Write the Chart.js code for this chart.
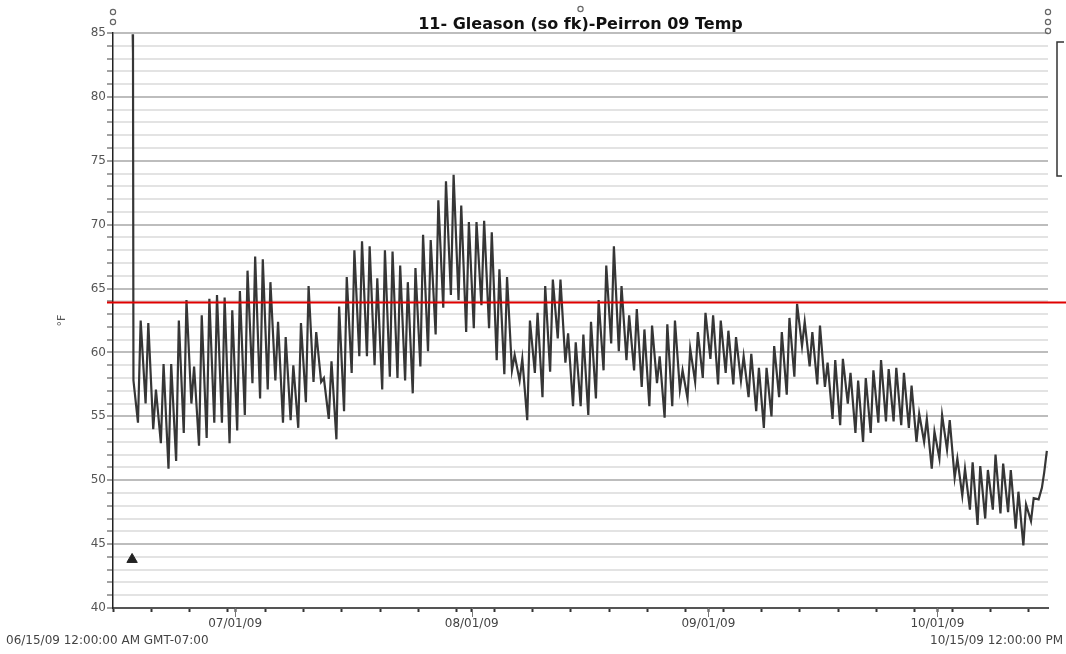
<!DOCTYPE html>
<html>
<head>
<meta charset="utf-8">
<title>11- Gleason (so fk)-Peirron 09 Temp</title>
<script src="https://cdn.jsdelivr.net/npm/chart.js@4.4.1/dist/chart.umd.min.js"></script>
<style>
  html, body { margin: 0; padding: 0; background: #fff; }
  #wrap { width: 1066px; height: 654px; position: relative; }
</style>
</head>
<body>
<div id="wrap"><canvas id="tempChart"></canvas></div>
<script>
// Days are counted from 06/15/09 00:00 (GMT-07:00)
const chartTitle = '11- Gleason (so fk)-Peirron 09 Temp';
const axisStart = 0;
const axisEnd = 122.5;            // 10/15/09 12:00
const startLabel = '06/15/09 12:00:00 AM GMT-07:00';
const endLabel = '10/15/09 12:00:00 PM';

// month ticks on the x axis
const monthDays = [16, 47, 78, 108];
const monthLabels = ['07/01/09', '08/01/09', '09/01/09', '10/01/09'];
const minorTickStep = 5;

// y axis, degrees F
const yMin = 40;
const yMax = 85;
const yLabelStep = 5;

// red reference line
const refTemp = 63.9;

// logger reading in air before it went into the stream
const launchDays = [2.58, 2.62, 2.68];
const launchTemps = [84.9, 83.4, 57.8];

// one morning low and one afternoon high per day, from day 3 on
const firstDay = 3;
const lowHour = 6.5;
const highHour = 15;
const dailyLow = [
  54.5, 56.0, 54.0, 52.9, 50.9, 51.5, 53.7, 56.0, 52.7, 53.3,
  54.5, 54.5, 52.9, 53.9, 55.1, 57.6, 56.4, 57.1, 57.8, 54.5,
  54.7, 54.1, 56.1, 57.7, 57.7, 54.8, 53.2, 55.4, 58.4, 59.7,
  59.7, 59.0, 57.1, 58.1, 58.0, 57.8, 56.8, 58.9, 60.1, 61.4,
  63.5, 64.5, 64.1, 61.6, 61.9, 63.7, 61.9, 59.4, 58.3, 58.6,
  57.8, 54.7, 58.4, 56.5, 58.5, 61.1, 59.2, 55.8, 55.8, 55.1,
  56.4, 58.6, 60.7, 60.1, 59.4, 58.6, 57.3, 55.8, 57.6, 54.9,
  55.8, 57.1, 56.4, 57.7, 58.0, 59.5, 57.5, 58.4, 57.5, 57.8,
  56.5, 55.4, 54.1, 55.0, 56.5, 56.7, 58.1, 60.5, 58.9, 57.5,
  57.3, 54.8, 54.3, 56.0, 53.7, 53.0, 53.7, 54.5, 54.6, 54.6,
  54.3, 54.1, 53.0, 53.0, 50.9, 51.7, 52.4, 50.2, 48.8, 47.7,
  46.5, 47.0, 47.7, 47.4, 47.5, 46.2, 44.9, 46.8, 48.5
];
const dailyHigh = [
  62.5, 62.3, 57.1, 59.1, 59.1, 62.5, 64.1, 58.9, 62.9, 64.2,
  64.5, 64.3, 63.3, 64.8, 66.4, 67.5, 67.3, 65.5, 62.4, 61.2,
  59.0, 62.3, 65.2, 61.6, 58.0, 59.3, 63.6, 65.9, 68.0, 68.7,
  68.3, 65.8, 68.0, 67.9, 66.8, 65.5, 66.6, 69.2, 68.8, 71.9,
  73.4, 73.9, 71.5, 70.2, 70.2, 70.3, 69.4, 66.5, 65.9, 59.8,
  59.5, 62.5, 63.1, 65.2, 65.7, 65.7, 61.5, 60.8, 61.4, 62.4,
  64.1, 66.8, 68.3, 65.2, 62.9, 63.4, 61.8, 62.1, 59.7, 62.2,
  62.5, 58.6, 60.3, 61.6, 63.1, 62.9, 62.5, 61.7, 61.2, 59.7,
  59.9, 58.8, 58.8, 60.5, 61.6, 62.7, 63.8, 62.4, 61.6, 62.1,
  59.2, 59.4, 59.5, 58.4, 57.8, 58.0, 58.6, 59.4, 58.7, 58.8,
  58.4, 57.4, 55.2, 54.8, 53.8, 55.1, 54.7, 51.7, 50.9, 51.4,
  51.1, 50.8, 52.0, 51.3, 50.8, 49.1, 48.1, 48.6
];

// last readings, warming up on the final day
const tailDays = [121.7, 122.0, 122.35];
const tailTemps = [49.4, 50.6, 52.3];

// the triangle marker at the lower left
const markerDay = 2.5;
const markerTemp = 43.8;

// build the trace
const tracePoints = [];
launchDays.forEach((d, i) => tracePoints.push({ x: d, y: launchTemps[i] }));
dailyLow.forEach((low, i) => {
  const day = firstDay + i;
  tracePoints.push({ x: day + lowHour / 24, y: low });
  if (i < dailyHigh.length) {
    tracePoints.push({ x: day + highHour / 24, y: dailyHigh[i] });
  }
});
tailDays.forEach((d, i) => tracePoints.push({ x: d, y: tailTemps[i] }));

const xTicks = [];
for (let d = axisStart; d <= axisEnd; d += minorTickStep) xTicks.push(d);
monthDays.forEach(d => xTicks.push(d));
xTicks.sort((a, b) => a - b);

const yTicks = [];
for (let v = yMin; v <= yMax; v++) yTicks.push(v);

// extra drawing: title, reference line, long month ticks, scroll knobs
const decorations = {
  id: 'decorations',
  afterDatasetsDraw(chart) {
    const { ctx, chartArea: a, scales: { y } } = chart;
    const yRef = y.getPixelForValue(refTemp);
    ctx.save();
    ctx.strokeStyle = '#e00000';
    ctx.lineWidth = 2;
    ctx.beginPath();
    ctx.moveTo(a.left - 6, yRef);
    ctx.lineTo(chart.width, yRef);
    ctx.stroke();
    ctx.restore();
  },
  afterDraw(chart) {
    const { ctx, chartArea: a, scales: { x } } = chart;
    ctx.save();

    ctx.fillStyle = '#111';
    ctx.font = 'bold 16px "DejaVu Sans", Verdana, sans-serif';
    ctx.textAlign = 'center';
    ctx.textBaseline = 'alphabetic';
    ctx.fillText(chartTitle, (a.left + a.right) / 2, 29);

    // month ticks are longer than the 5-day ones
    ctx.strokeStyle = '#777';
    ctx.lineWidth = 1;
    monthDays.forEach(d => {
      const px = Math.round(x.getPixelForValue(d)) + 0.5;
      ctx.beginPath();
      ctx.moveTo(px, a.bottom);
      ctx.lineTo(px, a.bottom + 9);
      ctx.stroke();
    });

    ctx.fillStyle = '#444';
    ctx.font = '12px "DejaVu Sans", Verdana, sans-serif';
    ctx.textAlign = 'left';
    ctx.fillText(startLabel, 6, 644);
    ctx.fillText(endLabel, 930, 644);

    // scroll knobs at the top of the plot
    ctx.strokeStyle = '#666';
    ctx.lineWidth = 1.2;
    const knobs = [[a.left, 12], [a.left, 22], [a.right, 12], [a.right, 22], [a.right, 31], [(a.left + a.right) / 2, 9]];
    knobs.forEach(([kx, ky]) => {
      ctx.beginPath();
      ctx.arc(kx, ky, 2.6, 0, Math.PI * 2);
      ctx.stroke();
    });

    // bracket at the right edge
    ctx.strokeStyle = '#333';
    ctx.lineWidth = 1.5;
    ctx.beginPath();
    ctx.moveTo(1064, 42);
    ctx.lineTo(1057, 42);
    ctx.lineTo(1057, 176);
    ctx.lineTo(1062, 176);
    ctx.stroke();

    ctx.restore();
  }
};

Chart.defaults.font.family = '"DejaVu Sans", Verdana, sans-serif';

const ctx = document.getElementById('tempChart').getContext('2d');
const tempChart = new Chart(ctx, {
  type: 'line',
  data: {
    datasets: [
      {
        label: 'Temp',
        data: tracePoints,
        borderColor: '#363636',
        borderWidth: 2.2,
        pointRadius: 0,
        tension: 0,
        fill: false
      },
      {
        label: 'marker',
        data: [{ x: markerDay, y: markerTemp }],
        showLine: false,
        pointStyle: 'triangle',
        pointRadius: 6,
        backgroundColor: '#222',
        borderColor: '#222'
      }
    ]
  },
  options: {
    responsive: true,
    maintainAspectRatio: false,
    animation: false,
    devicePixelRatio: 1,
    layout: { padding: { left: 52, right: 18, top: 33, bottom: 0 } },
    plugins: {
      legend: { display: false },
      tooltip: { enabled: false },
      title: { display: false }
    },
    scales: {
      x: {
        type: 'linear',
        min: axisStart,
        max: axisEnd,
        afterBuildTicks: scale => { scale.ticks = xTicks.map(v => ({ value: v })); },
        afterFit: scale => { scale.height = 46; },
        ticks: {
          autoSkip: false,
          maxRotation: 0,
          minRotation: 0,
          padding: 5,
          color: '#444',
          font: { size: 12 },
          callback: value => {
            const i = monthDays.indexOf(value);
            return i >= 0 ? monthLabels[i] : '';
          }
        },
        grid: {
          drawOnChartArea: false,
          drawTicks: true,
          tickLength: 4,
          tickColor: '#333',
          tickWidth: 2
        },
        border: { display: true, color: '#555', width: 2 }
      },
      y: {
        min: yMin,
        max: yMax,
        afterBuildTicks: scale => { scale.ticks = yTicks.map(v => ({ value: v })); },
        afterFit: scale => { scale.width = 61; },
        ticks: {
          autoSkip: false,
          padding: 1,
          color: '#555',
          font: { size: 12 },
          callback: value => (value % yLabelStep === 0 ? String(value) : '')
        },
        grid: {
          color: c => (c.tick && c.tick.value % yLabelStep === 0 ? '#bdbdbd' : '#e3e3e3'),
          lineWidth: 2,
          tickLength: 6,
          tickColor: '#444',
          tickWidth: 1
        },
        border: { display: true, color: '#222', width: 1.5 },
        title: {
          display: true,
          text: '°F',
          color: '#555',
          font: { size: 11 }
        }
      }
    }
  },
  plugins: [decorations]
});
</script>
</body>
</html>
